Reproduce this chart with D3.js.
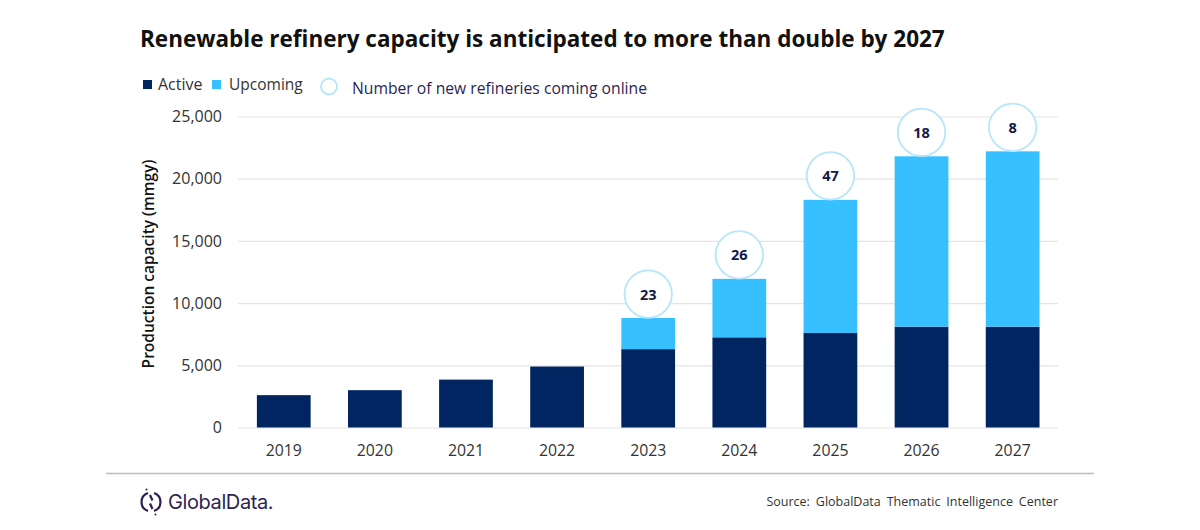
<!DOCTYPE html>
<html>
<head>
<meta charset="utf-8">
<script src="https://cdn.jsdelivr.net/npm/d3@7"></script>
<style>
  body { margin: 0; background: #fff; }
  text { font-family: "Open Sans", sans-serif; }
</style>
</head>
<body>
<script>
// values
var years = ["2019","2020","2021","2022","2023","2024","2025","2026","2027"];
var active = [2600, 3000, 3850, 4900, 6300, 7250, 7600, 8100, 8100];
var upcoming = [0, 0, 0, 0, 2500, 4700, 10700, 13700, 14100];
var newRefineries = [null, null, null, null, 23, 26, 47, 18, 8];
var yTicks = [0, 5000, 10000, 15000, 20000, 25000];

var darkBlue = "#002561", lightBlue = "#36c0ff", ringBlue = "#b5e6fb", purple = "#2d1f52";

var svg = d3.select("body").append("svg")
    .attr("width", 1200)
    .attr("height", 530)
    .style("display", "block");

var x = d3.scaleBand().domain(years).range([238.2, 1058.2]).paddingInner(0.41).paddingOuter(0.205);
var y = d3.scaleLinear().domain([0, 25000]).range([427.5, 116.5]);

// title
svg.append("text")
    .attr("x", 140).attr("y", 46.5)
    .attr("font-size", 22.5).attr("font-weight", 700).attr("fill", "#111")
    .text("Renewable refinery capacity is anticipated to more than double by 2027");

// legend
var legendRow = svg.append("g");
legendRow.append("rect").attr("x", 143).attr("y", 80).attr("width", 9).attr("height", 9).attr("fill", darkBlue);
legendRow.append("text").attr("x", 158).attr("y", 90).attr("font-size", 16).attr("fill", "#333").text("Active");
legendRow.append("rect").attr("x", 212).attr("y", 80).attr("width", 9).attr("height", 9).attr("fill", lightBlue);
legendRow.append("text").attr("x", 229).attr("y", 90).attr("font-size", 15.5).attr("fill", "#333").text("Upcoming");
legendRow.append("circle").attr("cx", 329).attr("cy", 86.5).attr("r", 8).attr("fill", "#fff")
    .attr("stroke", ringBlue).attr("stroke-width", 1.8);
legendRow.append("text").attr("x", 352).attr("y", 93.5).attr("font-size", 15.7).attr("fill", purple)
    .text("Number of new refineries coming online");

// y axis with gridlines
var yAxis = svg.append("g")
    .attr("transform", "translate(238,0)")
    .call(d3.axisLeft(y).tickValues(yTicks).tickSize(-820).tickPadding(16).tickFormat(d3.format(",")));
yAxis.select(".domain").remove();
yAxis.selectAll("line").attr("stroke", "#e4e4e8").attr("stroke-width", 1.2);
yAxis.selectAll("text").attr("font-size", 16).attr("fill", "#333")
    .attr("font-family", "'Open Sans', sans-serif");

// x axis labels
var xAxis = svg.append("g")
    .attr("transform", "translate(0,427.5)")
    .call(d3.axisBottom(x).tickSize(0).tickPadding(17));
xAxis.select(".domain").remove();
xAxis.selectAll("text").attr("font-size", 15.8).attr("fill", "#333")
    .attr("font-family", "'Open Sans', sans-serif");

// y axis title
svg.append("text")
    .attr("transform", "translate(153.5,264) rotate(-90)")
    .attr("text-anchor", "middle")
    .attr("font-size", 15.5).attr("font-weight", 600).attr("fill", "#111")
    .text("Production capacity (mmgy)");

// bars
svg.append("g").selectAll("rect")
    .data(years)
    .enter()
    .append("rect")
    .attr("x", function (d) { return x(d); })
    .attr("width", x.bandwidth())
    .attr("y", function (d, i) { return y(active[i]); })
    .attr("height", function (d, i) { return y(0) - y(active[i]); })
    .attr("fill", darkBlue);

svg.append("g").selectAll("rect")
    .data(years)
    .enter()
    .append("rect")
    .attr("x", function (d) { return x(d); })
    .attr("width", x.bandwidth())
    .attr("y", function (d, i) { return y(active[i] + upcoming[i]); })
    .attr("height", function (d, i) { return y(active[i]) - y(active[i] + upcoming[i]); })
    .attr("fill", lightBlue);

// number bubbles sit on top of the stacks
var bubbles = svg.append("g").selectAll("g")
    .data(years.filter(function (d, i) { return newRefineries[i] != null; }))
    .enter()
    .append("g")
    .attr("transform", function (d) {
        var i = years.indexOf(d);
        return "translate(" + (x(d) + x.bandwidth() / 2) + "," + (y(active[i] + upcoming[i]) - 24) + ")";
    });
bubbles.append("circle").attr("r", 23.7).attr("fill", "#fff")
    .attr("stroke", ringBlue).attr("stroke-width", 1.8);
bubbles.append("text")
    .attr("text-anchor", "middle").attr("y", 5.5)
    .attr("font-size", 14.5).attr("font-weight", 700).attr("fill", "#12184a")
    .text(function (d) { return newRefineries[years.indexOf(d)]; });

// footer
svg.append("line").attr("x1", 106).attr("x2", 1094).attr("y1", 473.5).attr("y2", 473.5)
    .attr("stroke", "#bdbdbd").attr("stroke-width", 1.5);

var logo = svg.append("g").attr("transform", "translate(151,502)").attr("fill", "none")
    .attr("stroke", purple).attr("stroke-width", 2.2);
logo.append("path").attr("d", "M-3,-9 A9.5,9.5 0 0 0 -3,9");
logo.append("path").attr("d", "M3,-9 A9.5,9.5 0 0 1 3,9");
logo.append("path").attr("d", "M-1,-7 L1.5,-1.5 M-1,1.5 L1.5,7");
logo.append("circle").attr("cx", -4.5).attr("cy", -12.5).attr("r", 1).attr("fill", purple).attr("stroke", "none");
logo.append("circle").attr("cx", 4.5).attr("cy", 12.5).attr("r", 1).attr("fill", purple).attr("stroke", "none");

svg.append("text").attr("x", 168).attr("y", 509)
    .style("font-family", "Inter, sans-serif")
    .attr("font-size", 20).attr("font-weight", 400).attr("fill", purple).attr("letter-spacing", -0.4)
    .text("GlobalData.");

svg.append("text").attr("x", 1058).attr("y", 505.5).attr("text-anchor", "end")
    .attr("font-size", 12.5).attr("fill", "#333").attr("word-spacing", 2.7)
    .text("Source: GlobalData Thematic Intelligence Center");
</script>
</body>
</html>
